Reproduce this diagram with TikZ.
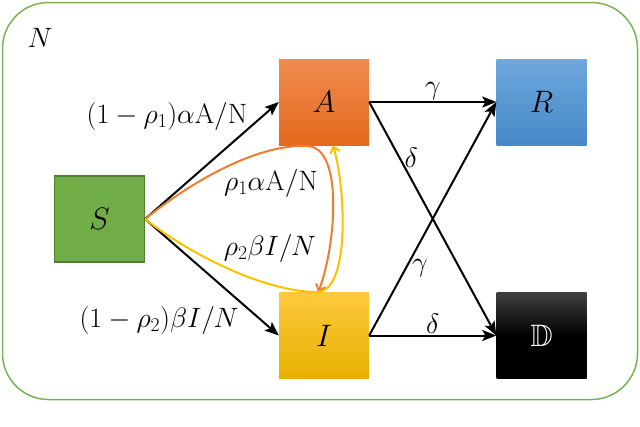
\RequirePackage{fix-cm}
\documentclass[tikz,border=0pt]{standalone}
\usepackage{amsmath,amssymb}
\usetikzlibrary{arrows.meta}
\definecolor{sgreen}{HTML}{70AD47}
\definecolor{sgreendark}{HTML}{507E32}
\definecolor{frameg}{HTML}{77B255}
\definecolor{atop}{HTML}{F08C50}
\definecolor{abot}{HTML}{E2691C}
\definecolor{itop}{HTML}{FFC93E}
\definecolor{ibot}{HTML}{E6B000}
\definecolor{rtop}{HTML}{6EA8DD}
\definecolor{rbot}{HTML}{4688C8}
\definecolor{dtop}{HTML}{404040}
\definecolor{orangeline}{HTML}{ED7D31}
\definecolor{yellowline}{HTML}{FFC000}
\newcommand\boxfont{\fontsize{31}{36}\selectfont}
\newcommand\labfont{\fontsize{28}{33}\selectfont}
\tikzset{
  box/.style={minimum width=90pt, minimum height=86pt, inner sep=0pt, font=\boxfont},
  flow/.style={line width=2pt, -{Stealth[length=14pt,width=11pt,inset=3pt]}},
  loopflow/.style={line width=2pt, -{Straight Barb[length=6pt,width=10pt]}},
  lab/.style={font=\labfont, inner sep=1pt},
}
\begin{document}
\begin{tikzpicture}[x=1pt,y=-1pt]
\useasboundingbox (0,0) rectangle (640,426);
\node[draw=frameg, line width=1.5pt, rounded corners=46pt, minimum width=635pt, minimum height=397pt, inner sep=0pt] (frame) at (320,201) {};
\node[lab] (Nlab) at (40,38) {$N$};

\node[box, fill=sgreen, draw=sgreendark, line width=1.2pt] (S) at (99.5,219) {$S$};
\node[box, top color=atop, bottom color=abot] (A) at (324,102) {$A$};
\node[box, top color=itop, bottom color=ibot] (I) at (324,335.5) {$I$};
\node[box, top color=rtop, bottom color=rbot] (R) at (541.5,102) {$R$};
\node[box, top color=dtop, bottom color=black, middle color=black, text=white] (D) at (541.5,335.5) {$\mathbb{D}$};

\draw[flow] (S.east) -- (A.west);
\draw[flow] (S.east) -- (I.west);
\node[lab] (l1) at (167,116) {$(1-\rho_1)\alpha\mathrm{A/N}$};
\node[lab] (l2) at (159,320) {$(1-\rho_2)\beta I/N$};

\draw[flow] (A.east) -- (R.west) node[lab, midway, above=0pt] {$\gamma$};
\draw[flow] (A.east) -- (D.west) node[lab, pos=0.24, right=3pt] {$\delta$};
\draw[flow] (I.east) -- (R.west) node[lab, pos=0.29, right=4pt] {$\gamma$};
\draw[flow] (I.east) -- (D.west) node[lab, midway, above=0pt] {$\delta$};

\coordinate (otop) at (307,146);
\coordinate (ybot) at (317,292);
\draw[loopflow, orangeline] (S.east) .. controls (200,175) and (262,144) .. (otop)
  .. controls (345,147) and (335,250) .. ([xshift=-6pt]I.north);
\draw[loopflow, yellowline] (S.east) .. controls (195,258) and (268,292) .. (ybot)
  .. controls (350,292) and (346,190) .. ([xshift=9pt]A.south);

\node[lab] (l3) at (271,183) {$\rho_1\alpha\mathrm{A/N}$};
\node[lab] (l4) at (270,248) {$\rho_2\beta I/N$};
\end{tikzpicture}
\end{document}
